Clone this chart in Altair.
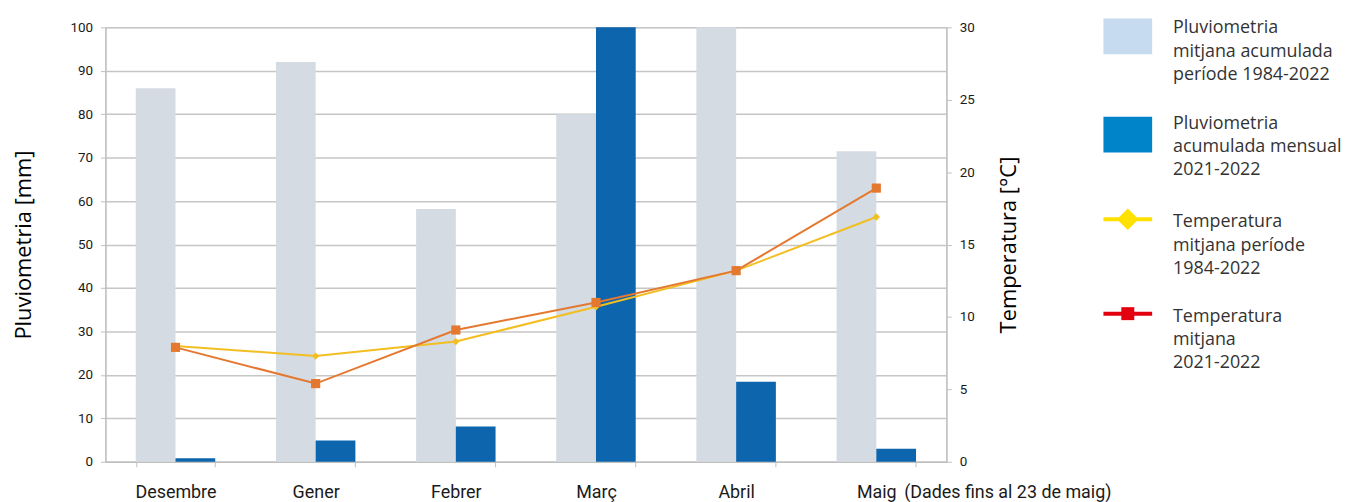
import altair as alt
import pandas as pd

# ---------------- data ----------------
months = ["Desembre", "Gener", "Febrer", "Març", "Abril", "Maig"]
rain_mean = [86.0, 92.0, 58.2, 80.0, 100.0, 71.5]   # Pluviometria mitjana acumulada 1984-2022 (mm)
rain_2122 = [0.8, 4.9, 8.1, 100.0, 18.4, 3.0]       # Pluviometria acumulada mensual 2021-2022 (mm)
temp_mean = [8.0, 7.3, 8.3, 10.7, 13.2, 16.9]       # Temperatura mitjana 1984-2022 (ºC)
temp_2122 = [7.9, 5.4, 9.1, 11.0, 13.2, 18.9]       # Temperatura mitjana 2021-2022 (ºC)

rain_series = ["mitjana 1984-2022", "mensual 2021-2022"]
rain_ticks = [0, 10, 20, 30, 40, 50, 60, 70, 80, 90, 100]
temp_ticks = [0, 5, 10, 15, 20, 25, 30]

legend_labels = [
    "Pluviometria\nmitjana acumulada\nperíode 1984-2022",
    "Pluviometria\nacumulada mensual\n2021-2022",
    "Temperatura\nmitjana període\n1984-2022",
    "Temperatura\nmitjana\n2021-2022",
]
note_month = ["Maig"]
note_text = ["(Dades fins al 23 de maig)"]

# ---------------- tables ----------------
rain_df = pd.DataFrame({
    "month": months * 2,
    "serie": [rain_series[0]] * len(months) + [rain_series[1]] * len(months),
    "mm": rain_mean + rain_2122,
})
temp_df = pd.DataFrame({"month": months, "mitjana": temp_mean, "actual": temp_2122})
note_df = pd.DataFrame({"month": note_month, "note": note_text})

W, H = 846, 437
AXIS_GREY = "#BFBFBF"
LABEL_COL = "#1a1a1a"

x_enc = alt.X(
    "month:N",
    sort=months,
    scale=alt.Scale(domain=months, paddingInner=0.433, paddingOuter=0.2165),
    axis=alt.Axis(
        title=None, labelAngle=0, tickBand="extent", labelFont="Roboto",
        labelFontSize=18, labelColor=LABEL_COL, labelPadding=17, tickSize=5,
        tickColor=AXIS_GREY, domainColor=AXIS_GREY, domainWidth=1.5, grid=False,
    ),
)

bars = alt.Chart(rain_df).mark_bar().encode(
    x=x_enc,
    xOffset=alt.XOffset("serie:N", sort=rain_series,
                        scale=alt.Scale(domain=rain_series, paddingInner=0, paddingOuter=0)),
    y=alt.Y("mm:Q", scale=alt.Scale(domain=[0, 100], nice=False),
            axis=alt.Axis(values=rain_ticks, title="Pluviometria [mm]", grid=True,
                          gridColor="#C6C6C6", gridWidth=1.5, domainColor=AXIS_GREY,
                          domainWidth=1.5, tickColor=AXIS_GREY, tickSize=5,
                          labelFont="Roboto", labelFontSize=13.5, labelColor=LABEL_COL,
                          labelPadding=8, titleFont="Open Sans", titleFontSize=22,
                          titleFontWeight="normal", titleColor="#000000", titlePadding=35)),
    color=alt.Color("serie:N", scale=alt.Scale(domain=rain_series, range=["#D4DBE3", "#0D65AD"]),
                    legend=None),
)

temp_axis = alt.Axis(orient="right", values=temp_ticks, title="Temperatura [°C]", grid=False,
                     domainColor=AXIS_GREY, domainWidth=1.5, tickColor=AXIS_GREY, tickSize=5,
                     labelFont="Roboto", labelFontSize=13.5, labelColor=LABEL_COL, labelPadding=8,
                     titleFont="Open Sans", titleFontSize=22, titleFontWeight="normal",
                     titleColor="#000000", titleAngle=270, titleBaseline="top", titlePadding=24)

line_mean = alt.Chart(temp_df).mark_line(
    color="#F2BE22", strokeWidth=2,
    point=alt.OverlayMarkDef(shape="diamond", size=55, filled=True, color="#F2BE22"),
).encode(
    x=x_enc,
    y=alt.Y("mitjana:Q", scale=alt.Scale(domain=[0, 30], nice=False), axis=temp_axis),
)

line_act = alt.Chart(temp_df).mark_line(
    color="#E4782F", strokeWidth=2,
    point=alt.OverlayMarkDef(shape="square", size=85, filled=True, color="#E4782F"),
).encode(
    x=x_enc,
    y=alt.Y("actual:Q", scale=alt.Scale(domain=[0, 30], nice=False), axis=None),
)

note = alt.Chart(note_df).mark_text(
    align="left", baseline="alphabetic", font="Roboto", fontSize=18, dx=28, color=LABEL_COL,
).encode(x=x_enc, y=alt.value(H + 36), text="note:N")

# ---------------- manual legend ----------------
LX0, LX1 = 1004, 1053          # symbol extent (relative to plot left)
LTX = 1074                     # legend text x
text_y = [6, 102, 201, 296]
legend_layers = []
swatch_cols = ["#C6DAF0", "#0084C9"]
for i, (yc, col) in enumerate(zip([9, 108], swatch_cols)):
    legend_layers.append(
        alt.Chart(pd.DataFrame({"label": [legend_labels[i]]})).mark_rect(color=col).encode(
            x=alt.value(LX0), x2=alt.value(LX1), y=alt.value(yc - 18), y2=alt.value(yc + 18))
    )
line_cols = ["#FFE100", "#E3000F"]
line_shapes = ["diamond", "square"]
line_sizes = [470, 170]
for j, (yc, col) in enumerate(zip([193, 288], line_cols)):
    i = j + 2
    d = pd.DataFrame({"label": [legend_labels[i]]})
    legend_layers.append(
        alt.Chart(d).mark_rule(color=col, strokeWidth=4).encode(
            x=alt.value(LX0), x2=alt.value(LX1), y=alt.value(yc))
    )
    legend_layers.append(
        alt.Chart(d).mark_point(shape=line_shapes[j], size=line_sizes[j], filled=True,
                                color=col, opacity=1).encode(
            x=alt.value((LX0 + LX1) / 2), y=alt.value(yc))
    )
for i, ty in enumerate(text_y):
    legend_layers.append(
        alt.Chart(pd.DataFrame({"label": [legend_labels[i]]})).mark_text(
            align="left", baseline="alphabetic", lineBreak="\n", font="Open Sans",
            fontSize=18, lineHeight=23.5, color="#333333",
        ).encode(x=alt.value(LTX), y=alt.value(ty), text="label:N")
    )

chart = alt.layer(bars, line_mean, line_act, note, *legend_layers).resolve_scale(
    y="independent"
).properties(
    width=W, height=H,
    padding={"left": 4, "top": 9, "right": 2, "bottom": 0},
).configure_view(stroke=None).configure(background="white")

chart.save("out.html", embed_options={"renderer": "svg", "actions": False})
